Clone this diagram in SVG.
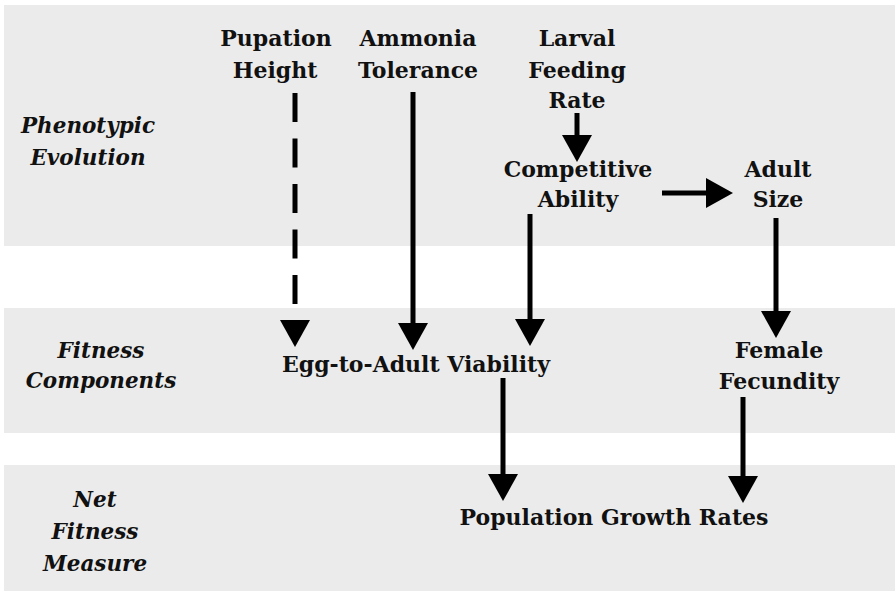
<svg xmlns="http://www.w3.org/2000/svg" width="896" height="591" viewBox="0 0 896 591">
<defs>
<style>
.band{fill:#ebebeb}
.t{font-family:"DejaVu Serif","Liberation Serif",serif;font-weight:bold;font-size:22px;fill:#111;text-anchor:middle}
.l{font-family:"DejaVu Serif","Liberation Serif",serif;font-weight:bold;font-style:italic;font-size:21.5px;fill:#111;text-anchor:middle}
.c{stroke:#000;stroke-width:5;fill:none;marker-end:url(#ah)}
.d{stroke-dasharray:29 16.5}
</style>
<marker id="ah" markerUnits="userSpaceOnUse" markerWidth="28" markerHeight="32" viewBox="0 -16 28 32" refX="0" refY="0" orient="auto">
<path d="M0,-15 L27,0 L0,15 z" fill="#000"/>
</marker>
</defs>
<rect width="896" height="591" fill="#fff"/>
<g id="bands">
<rect class="band" x="4" y="5" width="891" height="241"/>
<rect class="band" x="4" y="308" width="891" height="125"/>
<rect class="band" x="4" y="465" width="891" height="126"/>
</g>
<g id="row-labels">
<text class="l" x="88" y="133">Phenotypic</text>
<text class="l" x="88" y="165">Evolution</text>
<text class="l" x="101" y="358">Fitness</text>
<text class="l" x="101" y="388">Components</text>
<text class="l" x="95" y="507">Net</text>
<text class="l" x="95" y="539">Fitness</text>
<text class="l" x="95" y="571">Measure</text>
</g>
<g id="pupation"><text class="t" x="276" y="46">Pupation</text><text class="t" x="275" y="78">Height</text></g>
<g id="ammonia"><text class="t" x="418" y="46">Ammonia</text><text class="t" x="418" y="78">Tolerance</text></g>
<g id="larval"><text class="t" x="577" y="46">Larval</text><text class="t" x="577" y="78">Feeding</text><text class="t" x="577" y="108">Rate</text></g>
<g id="competitive"><text class="t" x="578" y="177">Competitive</text><text class="t" x="578" y="207">Ability</text></g>
<g id="adult"><text class="t" x="778" y="177">Adult</text><text class="t" x="778" y="207">Size</text></g>
<g id="viability"><text class="t" x="416" y="372">Egg-to-Adult Viability</text></g>
<g id="fecundity"><text class="t" x="779" y="358">Female</text><text class="t" x="779" y="389">Fecundity</text></g>
<g id="population"><text class="t" x="614" y="525">Population Growth Rates</text></g>
<g id="connectors">
<line class="c d" x1="295" y1="93" x2="295" y2="320"/>
<line class="c" x1="413" y1="92" x2="413" y2="323"/>
<line class="c" x1="577" y1="113" x2="577" y2="135"/>
<line class="c" x1="662" y1="193" x2="706" y2="193"/>
<line class="c" x1="530" y1="214" x2="530" y2="319"/>
<line class="c" x1="776" y1="218" x2="776" y2="311"/>
<line class="c" x1="503" y1="378" x2="503" y2="474"/>
<line class="c" x1="743" y1="397" x2="743" y2="476"/>
</g>
</svg>
